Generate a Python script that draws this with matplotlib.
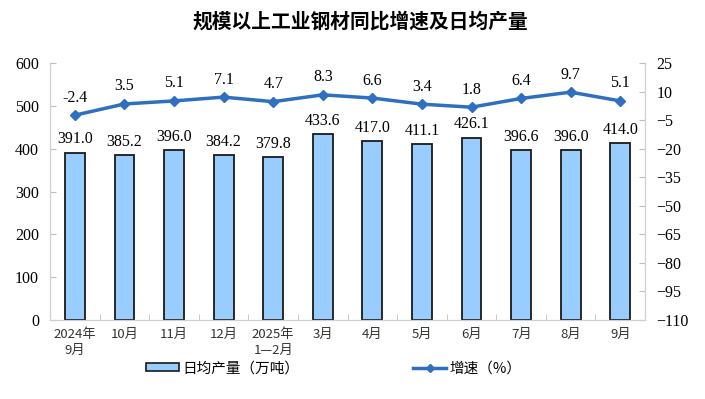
import numpy as np
import matplotlib.pyplot as plt
from matplotlib.lines import Line2D
from matplotlib.patches import Patch

months = ['2024年\n9月', '10月', '11月', '12月', '2025年\n1—2月', '3月',
          '4月', '5月', '6月', '7月', '8月', '9月']
output = [391.0, 385.2, 396.0, 384.2, 379.8, 433.6, 417.0, 411.1, 426.1, 396.6, 396.0, 414.0]
growth = [-2.4, 3.5, 5.1, 7.1, 4.7, 8.3, 6.6, 3.4, 1.8, 6.4, 9.7, 5.1]

serif = 'Liberation Serif'
cjk = ['Noto Sans CJK SC', 'DejaVu Sans']
plt.rcParams['font.family'] = [serif, 'Noto Sans CJK SC']

bar_color = '#99CCFF'
line_color = '#2E6FC0'
gray = '#BFBFBF'

fig = plt.figure(figsize=(7.05, 3.99), dpi=100)
ax = fig.add_axes([0.071, 0.198, 0.844, 0.644])
x = np.arange(len(months))

ax.bar(x, output, width=0.4, color=bar_color, edgecolor='#1a1a1a', linewidth=1.3, zorder=2)
for xi, v in zip(x, output):
    ax.text(xi, v + 12, f'{v:.1f}', ha='center', va='bottom', fontsize=11.5, family=serif)

ax.set_ylim(0, 600)
ax.set_yticks(range(0, 601, 100))
ax.set_xlim(-0.5, len(months) - 0.5)
ax.set_xticks(x)
ax.set_xticklabels(months, fontsize=9.5, family=cjk, color='#333333', linespacing=1.3)
ax.set_xticks(np.arange(-0.5, len(months), 1), minor=True)
ax.tick_params(axis='x', which='major', length=0, pad=6)
ax.tick_params(axis='x', which='minor', direction='in', length=4, color=gray)
ax.tick_params(axis='y', direction='in', length=4, color=gray, labelsize=11.5, pad=8,
               labelfontfamily=serif)

ax2 = ax.twinx()
ax2.plot(x, growth, color=line_color, linewidth=2.5, marker='D', markersize=5, zorder=3)
for xi, v in zip(x, growth):
    ax2.text(xi, v + 5, f'{v:.1f}', ha='center', va='bottom', fontsize=11.5, family=serif)
ax2.set_ylim(-110, 25)
ax2.set_yticks(range(-110, 26, 15))
ax2.tick_params(axis='y', direction='in', length=4, color=gray, labelsize=11.5, pad=8,
                labelfontfamily=serif)

for a in (ax, ax2):
    a.spines['top'].set_visible(False)
    for s in ('left', 'right', 'bottom'):
        a.spines[s].set_color('#D0D0D0')

fig.text(0.511, 0.945, '规模以上工业钢材同比增速及日均产量', ha='center', va='center',
         fontsize=14.2, fontweight='bold', family=cjk)

handles = [Patch(facecolor=bar_color, edgecolor='#1a1a1a', linewidth=1.2),
           Line2D([0], [0], color=line_color, linewidth=2.5, marker='D', markersize=4)]
labels = ['日均产量（万吨）', '增速（%）']
fig.legend(handles, labels, loc='center', bbox_to_anchor=(0.473, 0.077), ncol=2,
           frameon=False, prop={'family': cjk, 'size': 10.5}, columnspacing=7.8,
           handlelength=2.3, handleheight=0.5, handletextpad=0.2)

plt.savefig('out.png', dpi=100)
